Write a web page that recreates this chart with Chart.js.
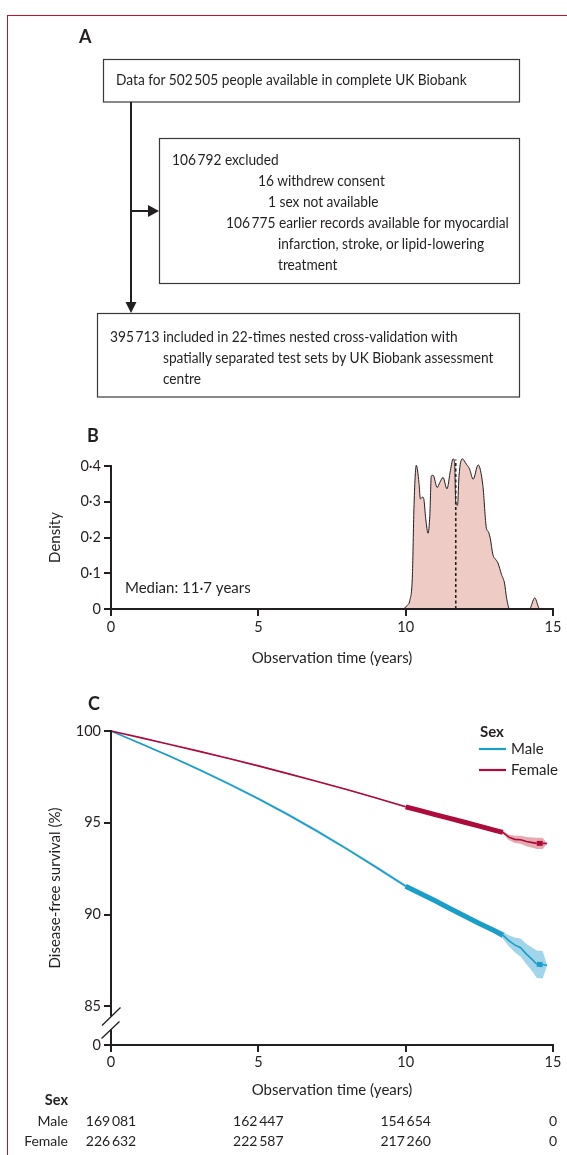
<!DOCTYPE html>
<html>
<head>
<meta charset="utf-8">
<script src="https://cdn.jsdelivr.net/npm/chart.js@4.4.1/dist/chart.umd.min.js"></script>
<style>
  html, body { margin: 0; padding: 0; background: #fff; }
  body { width: 567px; height: 1155px; position: relative; overflow: hidden; }
  canvas { position: absolute; left: 0; }
  #chart-b { top: 440px; }
  #chart-c { top: 700px; }
  #overlay { position: absolute; left: 0; top: 0; }
  #overlay text { font-family: Lato, 'Open Sans', sans-serif; fill: #231f20; }
</style>
</head>
<body>
<canvas id="chart-b" width="567" height="240"></canvas>
<canvas id="chart-c" width="567" height="455"></canvas>

<svg id="overlay" width="567" height="1155">
  <!-- page frame -->
  <line x1="7.5" y1="15" x2="7.5" y2="1155" stroke="#c8102e" stroke-width="1"/>
  <line x1="7" y1="15.5" x2="567" y2="15.5" stroke="#c8102e" stroke-width="1"/>

  <text x="79" y="43" font-size="18" font-weight="bold">A</text>
  <text x="87" y="442" font-size="18" font-weight="bold">B</text>
  <text x="88" y="710" font-size="18" font-weight="bold">C</text>

  <!-- flow diagram -->
  <g fill="none" stroke="#3b3838" stroke-width="1.2">
    <rect x="103.5" y="59.5" width="416" height="42.5"/>
    <rect x="159.5" y="138.5" width="360" height="145"/>
    <rect x="97.5" y="313.5" width="422" height="83.5"/>
  </g>
  <g stroke="#231f20" stroke-width="2">
    <line x1="131" y1="102" x2="131" y2="303"/>
    <line x1="131" y1="211" x2="150" y2="211"/>
  </g>
  <polygon points="159,211 148,205 148,217" fill="#231f20"/>
  <polygon points="131,313 125.5,302 136.5,302" fill="#231f20"/>

  <!-- the journal face is narrower than Lato, so squeeze horizontally -->
  <g font-size="15" transform="scale(0.915,1)">
    <text x="126.8" y="85">Data for 502&#8201;505 people available in complete UK Biobank</text>
    <text x="188" y="165">106&#8201;792 excluded</text>
    <text x="282" y="186">16 withdrew consent</text>
    <text x="292.9" y="207">1 sex not available</text>
    <text x="247" y="228">106&#8201;775 earlier records available for myocardial</text>
    <text x="303.8" y="249">infarction, stroke, or lipid-lowering</text>
    <text x="303.8" y="270">treatment</text>
    <text x="120.2" y="342">395&#8201;713 included in 22-times nested cross-validation with</text>
    <text x="178.1" y="363">spatially separated test sets by UK Biobank assessment</text>
    <text x="178.1" y="384">centre</text>
  </g>
</svg>

<script>
const ink = '#231f20';
const fontFamily = "Lato, 'Open Sans', sans-serif";

// panel B: density of observation time
const densityX = [9.9, 9.97, 10.05, 10.14, 10.23, 10.28, 10.36, 10.45, 10.5, 10.57, 10.61, 10.68, 10.76, 10.82,
  10.87, 10.93, 11.07, 11.16, 11.27, 11.4, 11.52, 11.61, 11.66, 11.7, 11.76, 11.81, 11.92, 12.06, 12.17, 12.29,
  12.46, 12.62, 12.74, 12.8, 12.87, 12.96, 13.05, 13.13, 13.25, 13.36, 13.42, 13.53, 13.6, 14.2, 14.38, 14.55, 14.6];
const densityY = [0, 0.003, 0.01, 0.024, 0.097, 0.28, 0.402, 0.354, 0.308, 0.313, 0.31, 0.253, 0.212, 0.262,
  0.372, 0.374, 0.34, 0.354, 0.368, 0.336, 0.388, 0.42, 0.41, 0.299, 0.29, 0.372, 0.42, 0.405, 0.391, 0.363,
  0.403, 0.345, 0.226, 0.217, 0.198, 0.152, 0.139, 0.129, 0.097, 0.07, 0.033, 0, 0, 0, 0.031, 0, 0];
const medianYears = 11.7;
const medianTop = 0.418;
const densityTicks = [0, 0.1, 0.2, 0.3, 0.4];
const xTicks = [0, 5, 10, 15];

// panel C: disease-free survival by sex
const survTime = [0, 1, 2, 3, 4, 5, 6, 7, 8, 9, 10, 10.5, 11, 11.5, 12, 12.5, 13, 13.3, 13.5, 13.7, 13.9, 14.1, 14.3, 14.45, 14.65, 14.8];
const maleSurv = [100, 99.32, 98.62, 97.89, 97.12, 96.31, 95.45, 94.54, 93.58, 92.58, 91.55, 91.15, 90.75, 90.33, 89.93, 89.52, 89.13, 88.88, 88.58, 88.35, 88.2, 87.85, 87.55, 87.3, 87.27, 87.24];
const maleLow = [100, 99.28, 98.57, 97.83, 97.05, 96.24, 95.37, 94.46, 93.5, 92.5, 91.46, 91.06, 90.65, 90.22, 89.82, 89.4, 89.0, 88.68, 88.28, 87.95, 87.7, 87.3, 86.9, 86.55, 86.52, 87.24];
const maleHigh = [100, 99.36, 98.67, 97.95, 97.19, 96.38, 95.53, 94.62, 93.66, 92.66, 91.64, 91.24, 90.85, 90.44, 90.04, 89.64, 89.26, 89.08, 88.88, 88.75, 88.7, 88.4, 88.2, 88.05, 88.02, 87.24];
const femaleSurv = [100, 99.64, 99.27, 98.89, 98.5, 98.1, 97.68, 97.25, 96.81, 96.35, 95.87, 95.66, 95.45, 95.24, 95.03, 94.82, 94.6, 94.48, 94.22, 94.1, 94.08, 93.98, 93.92, 93.88, 93.88, 93.87];
const femaleLow = [100, 99.62, 99.25, 98.86, 98.47, 98.07, 97.65, 97.22, 96.78, 96.32, 95.83, 95.62, 95.41, 95.2, 94.98, 94.77, 94.54, 94.4, 94.07, 93.9, 93.86, 93.73, 93.64, 93.58, 93.58, 93.87];
const femaleHigh = [100, 99.66, 99.29, 98.92, 98.53, 98.13, 97.71, 97.28, 96.84, 96.38, 95.91, 95.7, 95.49, 95.28, 95.08, 94.87, 94.66, 94.56, 94.37, 94.3, 94.3, 94.23, 94.2, 94.18, 94.18, 93.87];
const survTicks = [85, 90, 95, 100];
const survBreak = 82.9;          // where the broken axis shows "0"
const sexLabels = ['Male', 'Female'];
const sexColors = ['#1a9ec8', '#ad0b3c'];
const bandColors = ['#a3d5ea', '#e6aab1'];

// numbers at risk
const riskTimes = [0, 5, 10, 15];
const maleAtRisk = [169081, 162447, 154654, 0];
const femaleAtRisk = [226632, 222587, 217260, 0];

Chart.defaults.font.family = fontFamily;
Chart.defaults.color = ink;

const fmtNum = n => String(n).replace(/\B(?=(\d{3})+(?!\d))/g, '\u2009');
const fmtDot = v => String(v).replace('.', '\u00b7');
const pts = (xs, ys) => xs.map((x, i) => ({ x, y: ys[i] }));

function axisTicks(values) {
  return s => { s.ticks = values.map(v => ({ value: v })); };
}

const tickGrid = { drawOnChartArea: false, tickLength: 7, lineWidth: 2, color: ink };

// ---------- B ----------
const panelBExtras = {
  id: 'panelBExtras',
  afterDraw(chart) {
    const { ctx, scales: { x, y } } = chart;
    const y0 = y.getPixelForValue(0);
    const yTop = y.getPixelForValue(densityTicks[densityTicks.length - 1]);
    ctx.save();
    ctx.strokeStyle = ink;
    ctx.lineWidth = 2;
    ctx.beginPath();
    ctx.moveTo(x.left, yTop - 1);
    ctx.lineTo(x.left, y0);
    ctx.lineTo(x.getPixelForValue(15) + 1, y0);
    ctx.stroke();

    ctx.fillStyle = ink;
    ctx.font = '15px ' + fontFamily;
    ctx.textAlign = 'left';
    ctx.textBaseline = 'alphabetic';
    ctx.fillText('Median: ' + fmtDot(medianYears) + ' years', x.getPixelForValue(0) + 14, y0 - 16);

    ctx.translate(55, (y0 + yTop) / 2);
    ctx.rotate(-Math.PI / 2);
    ctx.textAlign = 'center';
    ctx.textBaseline = 'middle';
    ctx.fillText('Density', 0, 0);
    ctx.restore();
  }
};

new Chart(document.getElementById('chart-b'), {
  type: 'line',
  data: {
    datasets: [
      {
        data: pts(densityX, densityY),
        borderColor: ink,
        borderWidth: 1,
        backgroundColor: '#efcbc5',
        fill: 'origin',
        pointRadius: 0,
        cubicInterpolationMode: 'monotone',
        order: 1
      },
      {
        // median marker, drawn over the filled area
        data: [{ x: medianYears, y: 0 }, { x: medianYears, y: medianTop }],
        borderColor: ink,
        borderWidth: 1.6,
        borderDash: [3, 2.5],
        pointRadius: 0,
        fill: false,
        order: 0
      }
    ]
  },
  options: {
    responsive: false,
    animation: false,
    layout: { padding: { top: 8.4, right: 14, left: 0, bottom: 0 } },
    plugins: { legend: { display: false }, tooltip: { enabled: false } },
    scales: {
      x: {
        type: 'linear', min: 0, max: 15,
        afterBuildTicks: axisTicks(xTicks),
        afterFit: s => { s.height = 71; },
        grid: tickGrid,
        border: { display: false },
        ticks: { font: { size: 14.5 }, padding: 2.5, maxRotation: 0 },
        title: { display: true, text: 'Observation time (years)', font: { size: 15 }, padding: { top: 0, bottom: 13 } }
      },
      y: {
        type: 'linear', min: 0, max: 0.44,
        afterBuildTicks: axisTicks(densityTicks),
        afterFit: s => { s.width = 111; },
        grid: tickGrid,
        border: { display: false },
        ticks: { font: { size: 14.5 }, padding: 3, callback: v => fmtDot(v) }
      }
    }
  },
  plugins: [panelBExtras]
});

// ---------- C ----------
const panelCExtras = {
  id: 'panelCExtras',
  afterDraw(chart) {
    const { ctx, chartArea, scales: { x, y } } = chart;
    const left = x.left;
    const yBottom = y.getPixelForValue(survBreak);
    const gapTop = yBottom - 28.5;
    const gapBottom = yBottom - 15.5;
    ctx.save();
    ctx.strokeStyle = ink;
    ctx.lineWidth = 2;
    ctx.beginPath();
    ctx.moveTo(left, y.getPixelForValue(100) - 1);
    ctx.lineTo(left, gapTop);
    ctx.moveTo(left, gapBottom);
    ctx.lineTo(left, yBottom);
    ctx.lineTo(x.getPixelForValue(15) + 1, yBottom);
    ctx.stroke();
    // break marks
    ctx.lineWidth = 1.3;
    ctx.beginPath();
    ctx.moveTo(left - 9, gapTop + 9);
    ctx.lineTo(left + 9.5, gapTop - 9);
    ctx.moveTo(left - 9.5, gapBottom + 9);
    ctx.lineTo(left + 8.5, gapBottom - 8);
    ctx.stroke();

    // legend
    const lx = chartArea.right - 74;
    const ly = chartArea.top;
    ctx.fillStyle = ink;
    ctx.textAlign = 'left';
    ctx.textBaseline = 'alphabetic';
    ctx.font = 'bold 15px ' + fontFamily;
    ctx.fillText('Sex', lx + 1, ly + 6);
    ctx.font = '15px ' + fontFamily;
    ctx.textBaseline = 'middle';
    sexLabels.forEach((lab, i) => {
      const yy = ly + 18 + i * 21;
      ctx.strokeStyle = sexColors[i];
      ctx.lineWidth = 2.2;
      ctx.beginPath();
      ctx.moveTo(lx, yy);
      ctx.lineTo(lx + 27, yy);
      ctx.stroke();
      ctx.fillText(lab, lx + 32, yy + 0.5);
    });

    // numbers at risk
    const base = chartArea.bottom;
    ctx.textBaseline = 'alphabetic';
    ctx.textAlign = 'right';
    ctx.font = 'bold 14.5px ' + fontFamily;
    ctx.fillText('Sex', 68, base + 60);
    ctx.font = '14px ' + fontFamily;
    ctx.fillText(sexLabels[0], 68, base + 81);
    ctx.fillText(sexLabels[1], 68, base + 101);
    ctx.textAlign = 'center';
    riskTimes.forEach((t, i) => {
      const px = x.getPixelForValue(t);
      ctx.fillText(fmtNum(maleAtRisk[i]), px, base + 81);
      ctx.fillText(fmtNum(femaleAtRisk[i]), px, base + 101);
    });
    ctx.restore();
  }
};

// thick stretch where censoring marks pile up
const segWidth = c => {
  const x0 = c.p0.parsed.x;
  return (x0 >= 10 && x0 < 13.3) || (x0 >= 14.45 && x0 < 14.65) ? 5 : 1.6;
};

function band(lo, hi, color) {
  return [
    { data: pts(survTime, hi), borderWidth: 0, pointRadius: 0, fill: false, order: 2 },
    { data: pts(survTime, lo), borderWidth: 0, pointRadius: 0, fill: '-1', backgroundColor: color, order: 2 }
  ];
}

new Chart(document.getElementById('chart-c'), {
  type: 'line',
  data: {
    datasets: [
      ...band(maleLow, maleHigh, bandColors[0]),
      ...band(femaleLow, femaleHigh, bandColors[1]),
      {
        label: sexLabels[0], data: pts(survTime, maleSurv), borderColor: sexColors[0],
        borderWidth: 1.6, segment: { borderWidth: segWidth }, pointRadius: 0, fill: false, clip: false, order: 1
      },
      {
        label: sexLabels[1], data: pts(survTime, femaleSurv), borderColor: sexColors[1],
        borderWidth: 1.6, segment: { borderWidth: segWidth }, pointRadius: 0, fill: false, clip: false, order: 0
      }
    ]
  },
  options: {
    responsive: false,
    animation: false,
    layout: { padding: { top: 31, right: 14, left: 0, bottom: 0 } },
    plugins: { legend: { display: false }, tooltip: { enabled: false } },
    scales: {
      x: {
        type: 'linear', min: 0, max: 15,
        afterBuildTicks: axisTicks(xTicks),
        afterFit: s => { s.height = 110; },
        grid: tickGrid,
        border: { display: false },
        ticks: { font: { size: 14.5 }, padding: 2, maxRotation: 0 },
        title: { display: true, text: 'Observation time (years)', font: { size: 15 }, padding: { top: 0, bottom: 56 } }
      },
      y: {
        type: 'linear', min: survBreak, max: 100,
        afterBuildTicks: axisTicks([survBreak, ...survTicks]),
        afterFit: s => { s.width = 111; },
        grid: tickGrid,
        border: { display: false },
        ticks: { font: { size: 14.5 }, padding: 3, callback: v => (v === survBreak ? '0' : String(v)) },
        title: { display: true, text: 'Disease-free survival (%)', font: { size: 15 }, padding: { top: 46, bottom: 0 } }
      }
    }
  },
  plugins: [panelCExtras]
});
</script>
</body>
</html>
